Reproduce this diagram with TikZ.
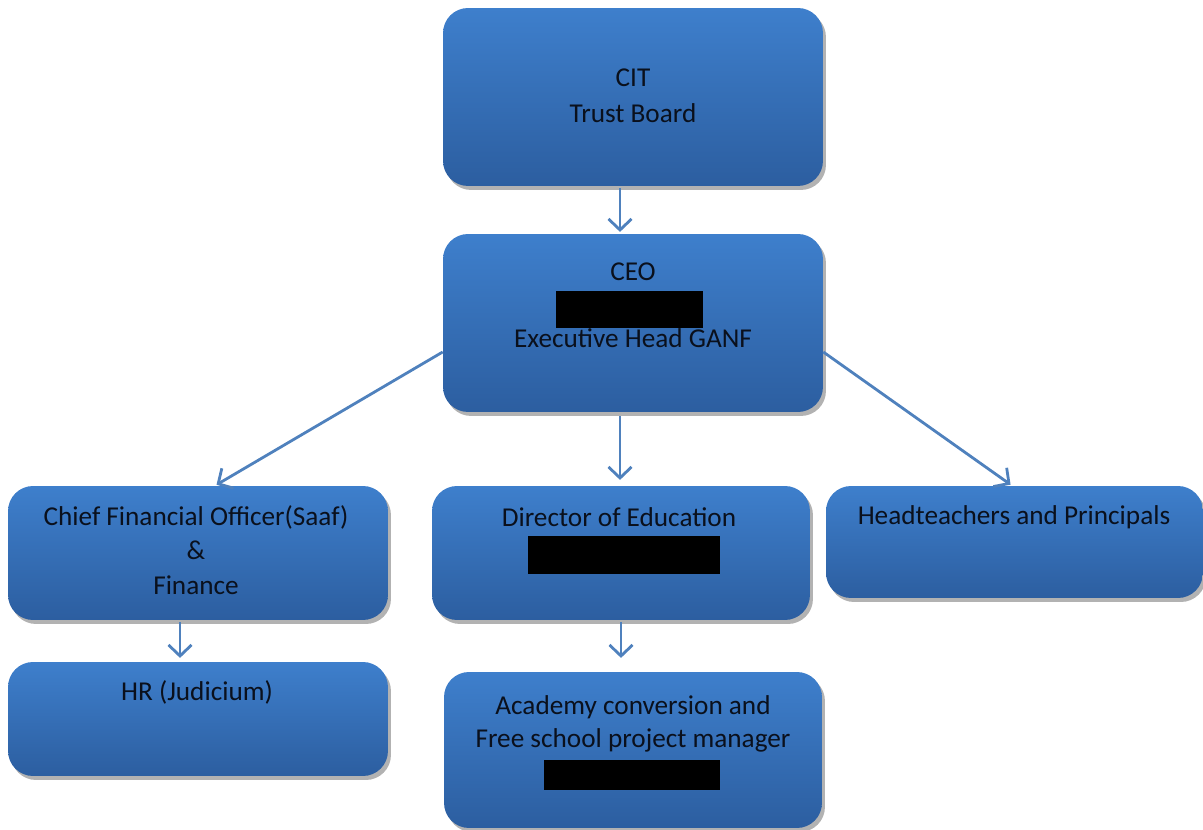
\documentclass[tikz,border=0pt]{standalone}
\usepackage{fontspec}
\setmainfont{Carlito}
\usepackage{tikz}
\usetikzlibrary{
        shadows,
        positioning,
        arrows.meta
    }
\definecolor{boxtop}{RGB}{62,127,204}
\definecolor{boxbot}{RGB}{44,94,160}
\definecolor{linkblue}{RGB}{79,129,189}
\definecolor{inktext}{RGB}{10,16,28}

\begin{document}
\begin{tikzpicture}
[x=0.02cm, y=-0.02cm,
baseshape/.style={rectangle, rounded corners=0.5cm, minimum width=7.6cm, inner sep=0pt,
  top color=boxtop, bottom color=boxbot, draw=none,
  drop shadow={shadow xshift=0.06cm, shadow yshift=-0.08cm, opacity=0.3, fill=black}},
boxtext/.style={text=inktext, align=center, inner sep=0pt, font=\fontsize{15.5}{19.5}\selectfont},
redact/.style={fill=black, inner sep=0pt},
arrow/.style={line width=1.6pt, draw=linkblue, -{Straight Barb[length=2.2mm, width=4.6mm, line width=1.6pt]}, shorten >=1pt},
]
\useasboundingbox (0,0) rectangle (1203,830);
% boxes
\node (cit) [baseshape, minimum height=3.56cm] at (633,97) {};
\node (ceo) [baseshape, minimum height=3.56cm] at (633,323) {};
\node (cfo) [baseshape, minimum height=2.68cm] at (198,553) {};
\node (dir) [baseshape, minimum height=2.68cm, minimum width=7.56cm] at (621,553) {};
\node (head) [baseshape, minimum height=2.24cm, minimum width=7.54cm] at (1014.5,542) {};
\node (hr) [baseshape, minimum height=2.28cm] at (198,719) {};
\node (acad) [baseshape, minimum height=3.12cm, minimum width=7.56cm] at (633,750) {};
% texts
\node (citt) [boxtext, font=\fontsize{15.5}{20.5}\selectfont] at (633,96) {CIT\\Trust Board};
\node (ceot) [boxtext] at (633,272) {CEO};
\node (ceor) [redact, minimum width=2.94cm, minimum height=0.74cm] at (629.5,309.5) {};
\node (ceoh) [boxtext] at (633,338) {Executive Head GANF};
\node (cfot) [boxtext] at (196,550) {Chief Financial Officer(Saaf)\\\&\\Finance};
\node (dirt) [boxtext] at (619,517) {Director of Education};
\node (dirr) [redact, minimum width=3.84cm, minimum height=0.76cm] at (624,555) {};
\node (headt) [boxtext] at (1014,517) {Headteachers and Principals};
\node (hrt) [boxtext] at (197,692) {HR (Judicium)};
\node (acadt) [boxtext, font=\fontsize{15.5}{18.5}\selectfont] at (633,724) {Academy conversion and\\Free school project manager};
\node (acadr) [redact, minimum width=3.52cm, minimum height=0.6cm] at (632,775) {};
% links
\draw[arrow] ([xshift=-0.26cm, yshift=-0.04cm]cit.south) -- ([xshift=-0.26cm]ceo.north);
\draw[arrow] ([yshift=-0.58cm]ceo.west) -- ([xshift=0.34cm]cfo.north);
\draw[arrow] ([xshift=-0.26cm, yshift=-0.08cm]ceo.south) -- ([xshift=-0.26cm, yshift=0.08cm]ceo.south |- dir.north);
\draw[arrow] ([yshift=-0.58cm]ceo.east) -- ([xshift=-0.05cm]head.north);
\draw[arrow] ([xshift=-0.36cm, yshift=-0.04cm]cfo.south) -- ([xshift=-0.36cm, yshift=0.04cm]hr.north);
\draw[arrow] ([yshift=-0.04cm]dir.south) -- ([yshift=0.24cm]dir.south |- acad.north);
\end{tikzpicture}
\end{document}
